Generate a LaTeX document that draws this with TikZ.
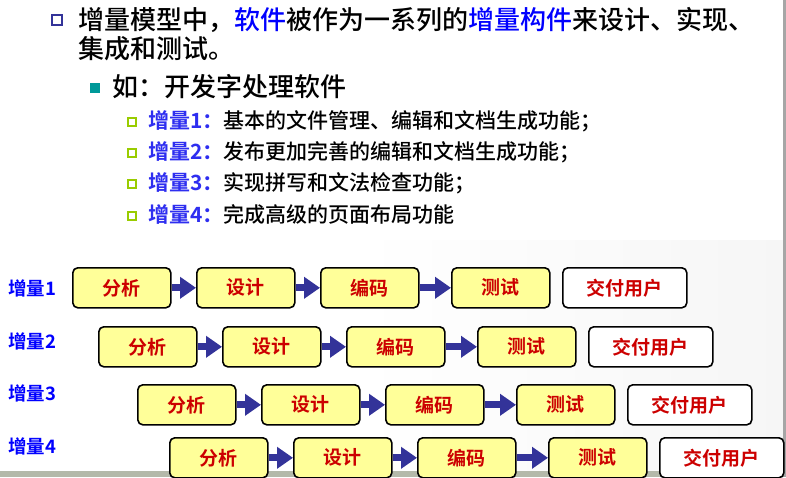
\documentclass[tikz,border=0pt]{standalone}
\usepackage{fontspec}
\setmainfont{Noto Sans CJK SC Medium}[BoldFont={Noto Sans CJK SC Bold}]
\usetikzlibrary{arrows.meta}
\definecolor{bulletblue}{HTML}{333399}
\definecolor{arrowblue}{HTML}{333399}
\definecolor{keyblue}{HTML}{0000FF}
\definecolor{subblue}{HTML}{2E2EF0}
\definecolor{tealb}{HTML}{009999}
\definecolor{greenb}{HTML}{99CC00}
\definecolor{boxfill}{HTML}{FFFF99}
\definecolor{boxred}{HTML}{CC0000}
\definecolor{bandgray}{HTML}{B4B9AA}
\tikzset{
  txt/.style={anchor=west, inner sep=0pt, text=black},
  big/.style={font=\fontsize{26}{30}\selectfont},
  small/.style={font=\fontsize{21}{25}\selectfont},
  lbl/.style={anchor=west, inner sep=0pt, text=keyblue, font=\fontsize{18.5}{22}\selectfont\bfseries},
  stagebox/.style={draw=black, line width=1.6pt, rounded corners=5pt, fill=boxfill,
    minimum width=98pt, minimum height=40pt, anchor=north west, inner sep=0pt,
    text=boxred, font=\fontsize{19}{22}\selectfont\bfseries},
  userbox/.style={stagebox, fill=white, minimum width=124pt},
  flow/.style={draw=arrowblue, line width=7pt, -{Triangle[length=16pt,width=21pt]}},
  hollowbullet/.style={draw=bulletblue, line width=2.4pt, fill=white, minimum size=10pt, inner sep=0pt},
  tealbullet/.style={fill=tealb, minimum size=10pt, inner sep=0pt},
  greenbullet/.style={draw=greenb, line width=2pt, fill=white, minimum size=8pt, inner sep=0pt}
}
\begin{document}
\begin{tikzpicture}[x=1pt,y=-1pt]
\useasboundingbox (0,0) rectangle (786,477);
% faint background
\shade[left color=white, right color=gray!7] (360,240) rectangle (786,472);
\fill[bandgray] (0,471) rectangle (786,477);
\fill[gray!70] (783,0) rectangle (786,477);

% heading bullets and text
\node[hollowbullet] (b1) at (57,20) {};
\node[txt,big] (l1) at (78,20) {增量模型中，\textcolor{keyblue}{软件}被作为一系列的\textcolor{keyblue}{增量构件}来设计、实现、};
\node[txt,big] (l2) at (78,49) {集成和测试。};
\node[tealbullet] (b2) at (95,88) {};
\node[txt,big] (l3) at (112,87) {如：开发字处理软件};

\node[greenbullet] (s1b) at (132,122) {};
\node[txt,small] (s1) at (148,121) {\textcolor{subblue}{\bfseries 增量1：}基本的文件管理、编辑和文档生成功能；};
\node[greenbullet] (s2b) at (132,153) {};
\node[txt,small] (s2) at (148,152) {\textcolor{subblue}{\bfseries 增量2：}发布更加完善的编辑和文档生成功能；};
\node[greenbullet] (s3b) at (132,184) {};
\node[txt,small] (s3) at (148,183) {\textcolor{subblue}{\bfseries 增量3：}实现拼写和文法检查功能；};
\node[greenbullet] (s4b) at (132,216) {};
\node[txt,small] (s4) at (148,215) {\textcolor{subblue}{\bfseries 增量4：}完成高级的页面布局功能};

% increments
\foreach \r/\a/\y/\ly in {1/72/267/288, 2/98/326/341, 3/137/384/393, 4/169/437/446} {
  \node[lbl] (lab\r) at (8,\ly) {增量\r};
  \node[stagebox] (r\r a) at (\a,\y) {分析};
  \node[stagebox] (r\r b) at (\a+124,\y) {设计};
  \node[stagebox] (r\r c) at (\a+248,\y) {编码};
  \node[stagebox] (r\r d) at (\a+379,\y) {测试};
  \node[userbox] (r\r e) at (\a+490,\y) {交付用户};
  \draw[flow] (r\r a.east) -- (r\r b.west);
  \draw[flow] (r\r b.east) -- (r\r c.west);
  \draw[flow] (r\r c.east) -- (r\r d.west);
}
\end{tikzpicture}
\end{document}
